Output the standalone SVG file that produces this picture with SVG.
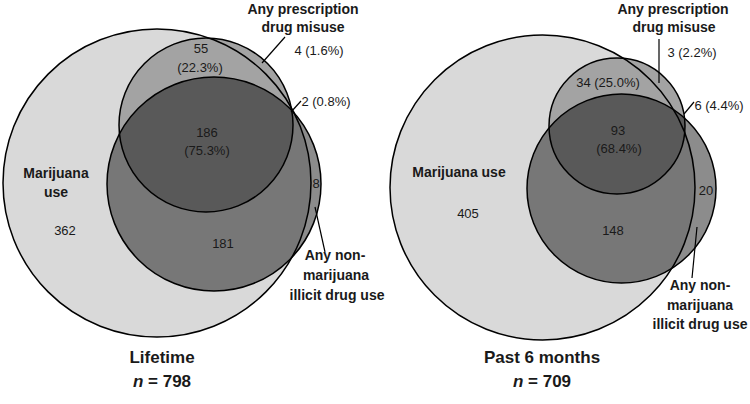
<svg xmlns="http://www.w3.org/2000/svg" xmlns:xlink="http://www.w3.org/1999/xlink" width="750" height="404" viewBox="0 0 750 404">
<style>
.ol{fill:none;stroke:#000;stroke-width:1.5}
.big{fill:#d9d9d9}
.rx{fill:#a3a3a3}
.nm{fill:#000;fill-opacity:0.45}
.t{font-family:"Liberation Sans",Arial,sans-serif;font-size:13px;fill:#1a1a1a;text-anchor:middle}
.b{font-weight:bold;font-size:14px}
.h{font-weight:bold;font-size:17px}
.ld{stroke:#000;stroke-width:1.2;fill:none}
</style>
<defs>
<circle id="sLbig" cx="157" cy="183" r="154"/>
<circle id="sLrx" cx="206" cy="125" r="87"/>
<circle id="sLnm" cx="214" cy="184" r="107"/>
<circle id="sRbig" cx="542.5" cy="187.5" r="152.5"/>
<circle id="sRrx" cx="617" cy="126" r="68"/>
<circle id="sRnm" cx="621.5" cy="188.5" r="94.5"/>
</defs>
<rect width="750" height="404" fill="#fff"/>

<!-- Lifetime -->
<g id="L-marijuana"><use href="#sLbig" class="big"/></g>
<g id="L-prescription"><use href="#sLrx" class="rx"/></g>
<g id="L-nonmarijuana"><use href="#sLnm" class="nm"/></g>
<!-- Past 6 months -->
<g id="R-marijuana"><use href="#sRbig" class="big"/></g>
<g id="R-prescription"><use href="#sRrx" class="rx"/></g>
<g id="R-nonmarijuana"><use href="#sRnm" class="nm"/></g>

<g id="outlines">
<use href="#sLbig" class="ol"/><use href="#sLrx" class="ol"/><use href="#sLnm" class="ol"/>
<use href="#sRbig" class="ol"/><use href="#sRrx" class="ol"/><use href="#sRnm" class="ol"/>
</g>

<g id="connectors">
<line class="ld" x1="262" y1="63" x2="285" y2="37"/>
<line class="ld" x1="291" y1="112" x2="301" y2="101"/>
<line class="ld" x1="315" y1="207" x2="325" y2="252"/>
<line class="ld" x1="659" y1="39" x2="659" y2="83"/>
<line class="ld" x1="684" y1="114" x2="694" y2="102"/>
<line class="ld" x1="697" y1="227" x2="692" y2="278"/>
</g>

<g id="L-labels" class="t">
<text class="b" x="303" y="14">Any prescription</text>
<text class="b" x="303" y="32">drug misuse</text>
<text x="319" y="55">4 (1.6%)</text>
<text x="326" y="106">2 (0.8%)</text>
<text x="201" y="53">55</text>
<text x="200" y="72">(22.3%)</text>
<text x="207" y="137">186</text>
<text x="207" y="155">(75.3%)</text>
<text class="b" x="56" y="178">Marijuana</text>
<text class="b" x="56" y="197">use</text>
<text x="65" y="235">362</text>
<text x="223" y="248">181</text>
<text x="316" y="188" fill="#1a1a1a">8</text>
<text class="b" x="335" y="260">Any non-</text>
<text class="b" x="336" y="280">marijuana</text>
<text class="b" x="337" y="300">illicit drug use</text>
<text class="h" x="162" y="363">Lifetime</text>
<text class="h" x="162" y="387"><tspan font-style="italic">n</tspan> = 798</text>
</g>

<g id="R-labels" class="t">
<text class="b" x="673" y="14">Any prescription</text>
<text class="b" x="674" y="32">drug misuse</text>
<text x="692" y="57">3 (2.2%)</text>
<text x="608" y="87">34 (25.0%)</text>
<text x="719" y="110">6 (4.4%)</text>
<text x="618" y="135">93</text>
<text x="619" y="153">(68.4%)</text>
<text class="b" x="459" y="177">Marijuana use</text>
<text x="468" y="218">405</text>
<text x="613" y="235">148</text>
<text x="706" y="195">20</text>
<text class="b" x="700" y="290">Any non-</text>
<text class="b" x="700" y="310">marijuana</text>
<text class="b" x="700" y="329">illicit drug use</text>
<text class="h" x="542" y="363">Past 6 months</text>
<text class="h" x="542" y="387"><tspan font-style="italic">n</tspan> = 709</text>
</g>
</svg>
